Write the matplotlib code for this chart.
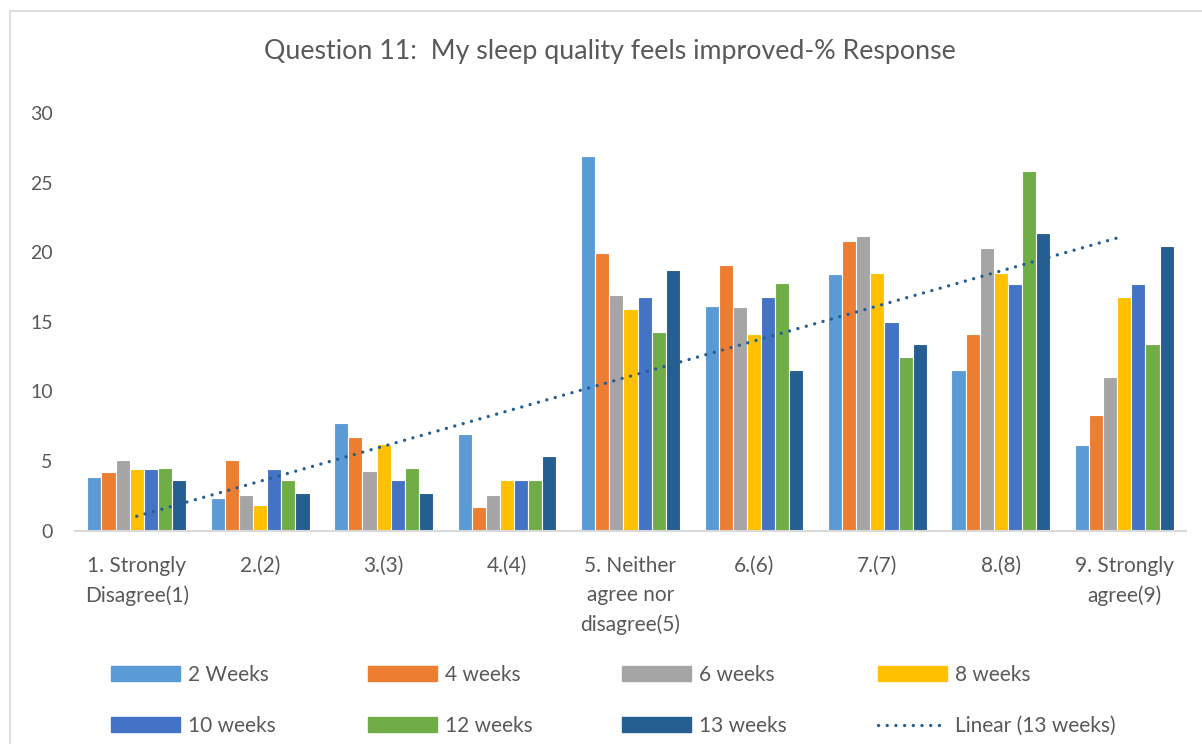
import matplotlib.pyplot as plt
import matplotlib.patches as mpatches
from matplotlib.lines import Line2D
import numpy as np

plt.rcParams['font.family'] = ['Lato', 'DejaVu Sans']

categories = ["1. Strongly\nDisagree(1)", "2.(2)", "3.(3)", "4.(4)",
              "5. Neither\nagree nor\ndisagree(5)", "6.(6)", "7.(7)", "8.(8)",
              "9. Strongly\nagree(9)"]
series_names = ["2 Weeks", "4 weeks", "6 weeks", "8 weeks",
                "10 weeks", "12 weeks", "13 weeks"]
w2 = [3.85, 2.35, 7.75, 6.95, 26.9, 16.1, 18.4, 11.5, 6.15]
w4 = [4.2, 5.05, 6.7, 1.7, 19.95, 19.1, 20.8, 14.15, 8.3]
w6 = [5.1, 2.55, 4.3, 2.55, 16.9, 16.05, 21.15, 20.3, 11.0]
w8 = [4.45, 1.8, 6.25, 3.6, 15.9, 14.1, 18.5, 18.5, 16.8]
w10 = [4.45, 4.45, 3.6, 3.6, 16.8, 16.8, 15.0, 17.7, 17.7]
w12 = [4.5, 3.6, 4.5, 3.6, 14.25, 17.8, 12.45, 25.8, 13.4]
w13 = [3.6, 2.7, 2.7, 5.35, 18.7, 11.55, 13.4, 21.4, 20.45]
colors = ["#5B9BD5", "#ED7D31", "#A5A5A5", "#FFC000",
          "#4472C4", "#70AD47", "#255E91"]
all_series = [w2, w4, w6, w8, w10, w12, w13]

fig = plt.figure(figsize=(12.02, 7.44), dpi=100)
ax = fig.add_axes([75/1202, 1-530.5/744, (1186-75)/1202, (530.5-113)/744])

x = np.arange(len(categories))
bw = 0.8/7
handles = []
for i, (vals, name, c) in enumerate(zip(all_series, series_names, colors)):
    ax.bar(x - 0.4 + bw*(i+0.5), vals, width=bw, color=c,
           edgecolor='white', linewidth=0.8, label=name)
    handles.append(mpatches.Patch(color=c, label=name))

# linear trendline through the 13 weeks series
k, m = np.polyfit(x + 1, w13, 1)
ax.plot(x, k*(x+1)+m, color="#255E91", lw=2.4,
        linestyle=(0, (0.01, 2.6)), dash_capstyle='round')
handles.append(Line2D([], [], color="#255E91", lw=2.4,
                      linestyle=(0, (0.01, 2.6)), dash_capstyle='round',
                      label="Linear (13 weeks)"))

ax.set_xlim(-0.5, 8.5)
ax.set_ylim(0, 30)
ax.set_yticks(range(0, 31, 5))
ax.set_xticks(x)
ax.set_xticklabels(categories, linespacing=1.58, fontsize=15)
for s in ['top', 'right', 'left']:
    ax.spines[s].set_visible(False)
ax.spines['bottom'].set_color('#D9D9D9')
ax.spines['bottom'].set_linewidth(1.5)
ax.tick_params(axis='both', length=0, colors='#595959')
ax.tick_params(axis='y', pad=16, labelsize=14)
ax.tick_params(axis='x', pad=18)

fig.text(610/1202, 1-52/744, "Question 11:  My sleep quality feels improved-% Response",
         ha='center', va='center', fontsize=19.3, color='#595959')

# legend: 4 columns of 2 rows
col_x = [111, 368, 622, 878]
for j in range(4):
    hs = [handles[j], handles[j+4]]
    fig.legend(handles=hs, loc='upper left',
               bbox_to_anchor=(col_x[j]/1202, 1-665/744),
               frameon=False, fontsize=15, labelcolor='#595959',
               handlelength=3.3, handleheight=0.72, handletextpad=0.38,
               labelspacing=1.49, borderpad=0, borderaxespad=0)

fig.patches.append(mpatches.Rectangle((10/1202, -0.1), 1.2, 1-11/744+0.1,
                                      transform=fig.transFigure, fill=False,
                                      edgecolor='#D9D9D9', lw=1.2))

fig.savefig("out.png", dpi=100)
